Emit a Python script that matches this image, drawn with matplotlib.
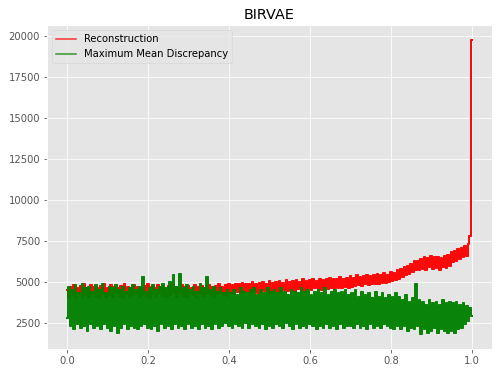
import numpy as np
import matplotlib
matplotlib.use("Agg")
import matplotlib.pyplot as plt

plt.style.use("ggplot")
plt.rcParams["path.simplify"] = False

title = "BIRVAE"
series_names = ["Reconstruction", "Maximum Mean Discrepancy"]

reconstruction = [
    4500, 4100, 4700, 4200, 4800, 4000, 4600, 4300, 4750, 4100,
    4850, 4200, 4650, 4050, 4800, 4300, 4700, 4150, 4600, 4000,
    4750, 4250, 4850, 4100, 4650, 4200, 4800, 4050, 4700, 4300,
    4600, 4150, 4750, 4000, 4850, 4250, 4700, 4100, 4650, 4200,
    4800, 4300, 4700, 4050, 4600, 4200, 4750, 4150, 4850, 4000,
    4700, 4250, 4650, 4100, 4800, 4300, 4700, 4150, 4600, 4050,
    4750, 4200, 4850, 4300, 4700, 4100, 4650, 4250, 4800, 4150,
    4700, 4050, 4750, 4300, 4650, 4200, 4800, 4100, 4700, 4250,
    4750, 4150, 4650, 4300, 4800, 4200, 4700, 4100, 4750, 4250,
    4850, 4300, 4700, 4200, 4800, 4150,
    4850, 4350, 4800, 4250, 4900, 4400, 4850, 4300, 4950, 4350,
    4850, 4400, 4900, 4300, 5000, 4450, 4900, 4350, 4950, 4400,
    5000, 4450, 4900, 4400, 5050, 4350, 4950, 4500, 5000, 4400,
    5050, 4450, 4950, 4500, 5100, 4450, 5000, 4500, 5050, 4400,
    5100, 4550, 5000, 4500, 5150, 4450, 5050, 4550, 5100, 4500,
    5150, 4600, 5050, 4550, 5200, 4500, 5100, 4600, 5150, 4550,
    5250, 4600, 5150, 4650, 5200, 4600, 5300, 4650, 5200, 4700,
    5250, 4650,
    5350, 4700, 5250, 4750, 5400, 4800, 5300, 4750, 5350, 4850,
    5450, 4800, 5350, 4900, 5400, 4850, 5500, 4900, 5400, 4950,
    5550, 4950, 5450, 5000, 5600, 5050, 5550, 5100, 5700,
    5200, 5800, 5300, 5900, 5400, 6000, 5500, 6100, 5600, 6250,
    5700, 6300, 5750, 6400,
    5800, 6500, 5750, 6450, 5900, 6600, 5800, 6500, 5850, 6550,
    5750, 6450, 5900, 6600, 5850, 6650, 5950,
    6800, 6200, 6900, 6300, 7000, 6400, 7100, 6500, 7200, 6600,
    7300, 7800, 19800,
]

mmd = [
    2800, 4700, 2300, 4500, 2100, 4800, 2400, 4300, 2200, 4900,
    2300, 4600, 2000, 4700, 2400, 4400, 2200, 4800, 2300, 4500,
    2100, 4900, 2400, 4300, 2200, 4700, 2000, 4600, 2300, 4800,
    1900, 4500, 2200, 4700, 2400, 4400, 2100, 4600, 2300, 4800,
    2200, 4500, 2100, 4700, 2300, 5300, 2400, 4400, 2200, 4600,
    2100, 4800, 2300, 4500, 2000, 4700, 2400, 4900, 2200, 4600,
    2300, 5000, 2100, 5400, 2400, 4700, 2200, 5500, 2300, 4600,
    2100, 4800, 2400, 4500, 2200, 4700, 2300, 4400, 2100, 4900,
    2400, 4600, 2200, 5300, 2300, 4500, 2100, 4700, 2400, 4400,
    2200, 4600, 2300, 4300, 2500, 4500,
    2300, 4300, 2200, 4500, 2400, 4200, 2300, 4600, 2200, 4400,
    2500, 4300, 2200, 4500, 2400, 4600, 2300, 4200, 2200, 4500,
    2400, 4300, 2100, 4600, 2300, 4400, 2200, 4500, 2400, 4300,
    2300, 4600, 2200, 4400, 2500, 4200, 2300, 4500, 2100, 4400,
    2400, 4300, 2200, 4600, 2300, 4400, 2200, 4500, 2400, 4200,
    2300, 4400, 2100, 4500, 2300, 4300, 2200, 4600, 2400, 4200,
    2200, 4400, 2300, 4500, 2100, 4300, 2400, 4400, 2200, 4500,
    2300, 4200,
    2300, 4300, 2200, 4500, 2400, 4100, 2200, 4400, 2300, 4200,
    2100, 4300, 2400, 4000, 2200, 4400, 2300, 4100, 2200, 4300,
    2400, 4000, 2300, 4200, 2200, 4100, 2100, 4300, 2300,
    4100, 2100, 3900, 2300, 4200, 2000, 3800, 2200, 4000, 2100,
    4900, 2300, 3900, 1800,
    3800, 2100, 3600, 1900, 3900, 2000, 3700, 2200, 3800, 1900,
    3600, 2100, 3900, 2000, 3700, 1900, 3800,
    2000, 3700, 1900, 3800, 2100, 3600, 2200, 3700, 2400, 3500,
    2600, 3400, 2900,
]

x_rec = np.linspace(0, 1, len(reconstruction))
x_mmd = np.linspace(0, 1, len(mmd))

W, H, DPI = 502, 374, 72
fig = plt.figure(figsize=(W / DPI, H / DPI), dpi=DPI)
ax = fig.add_axes([47 / W, (H - 349) / H, 445 / W, 324 / H])

for xs, ys, col, name in [(x_rec, reconstruction, "red", series_names[0]),
                          (x_mmd, mmd, "green", series_names[1])]:
    ax.plot(xs, ys, color=col, alpha=0.8, linewidth=2.0, drawstyle="steps-mid")
    ax.plot(xs, ys, color=col, alpha=0.8, linewidth=2.0, drawstyle="steps-mid")
    ax.plot([], [], color=col, alpha=0.8, linewidth=1.5, label=name)

ax.set_title(title, fontsize=14.4, color="black")
ax.set_xticks([0.0, 0.2, 0.4, 0.6, 0.8, 1.0])
ax.set_yticks([2500, 5000, 7500, 10000, 12500, 15000, 17500, 20000])
ax.tick_params(labelsize=10, colors="#555555")
ax.legend(loc="upper left", fontsize=10)

fig.savefig("out.png", dpi=DPI)
